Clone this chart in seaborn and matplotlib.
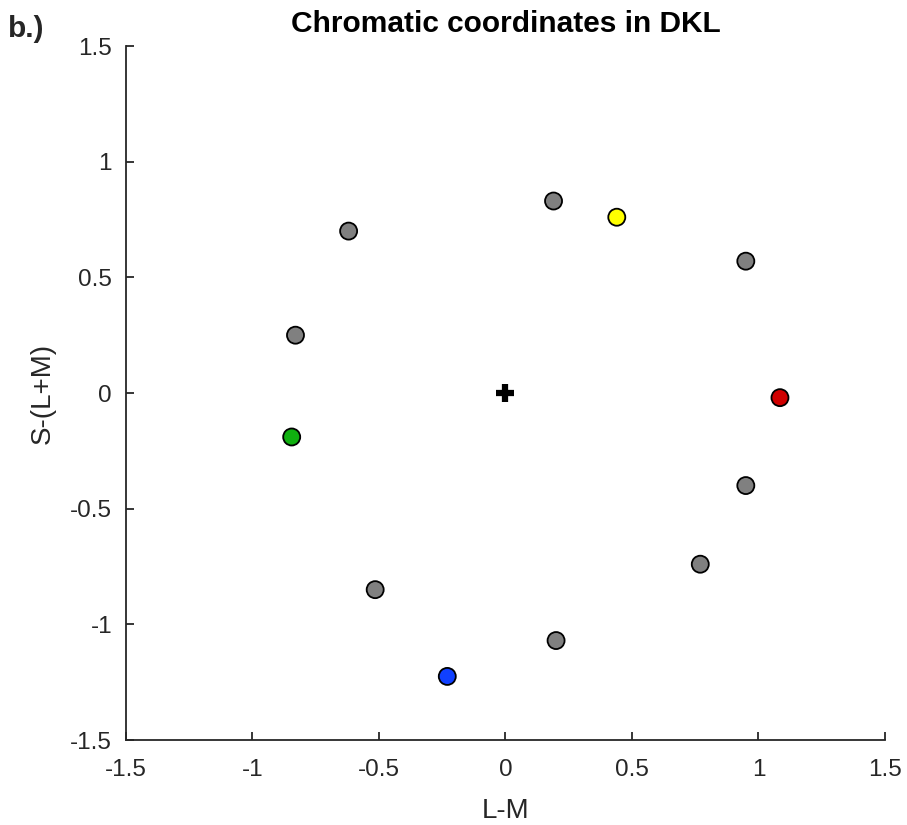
import matplotlib
matplotlib.use("Agg")
import matplotlib.pyplot as plt
import seaborn as sns
import pandas as pd

# DKL chromatic coordinates of the stimuli
lm = [0.19, 0.44, 0.95, -0.62, -0.83, 1.085, -0.845, 0.95, 0.77, -0.515, 0.20, -0.23]
s_lum = [0.83, 0.76, 0.57, 0.70, 0.25, -0.02, -0.19, -0.40, -0.74, -0.85, -1.07, -1.225]
kind = ["other", "yellow", "other", "other", "other", "red", "green",
        "other", "other", "other", "other", "blue"]
palette = {"other": "#808080", "yellow": "#ffff00", "red": "#d00000",
           "green": "#10b010", "blue": "#1040ff"}

ticks = [-1.5, -1, -0.5, 0, 0.5, 1, 1.5]
tick_labels = ["-1.5", "-1", "-0.5", "0", "0.5", "1", "1.5"]

df = pd.DataFrame({"L-M": lm, "S-(L+M)": s_lum, "kind": kind})

sns.set_style("white")
plt.rcParams["font.family"] = ["Liberation Sans", "DejaVu Sans"]

fig = plt.figure(figsize=(9.07, 8.25), dpi=100)
ax = fig.add_axes([0.1389, 0.1030, 0.8368, 0.8412])

sns.scatterplot(data=df, x="L-M", y="S-(L+M)", hue="kind", palette=palette,
                s=150, edgecolor="black", linewidth=1.3, legend=False, ax=ax, zorder=3)
ax.plot([0], [0], marker="+", markersize=13, markeredgewidth=4.5, color="black",
        linestyle="none", zorder=3)

ax.set_xlim(-1.5, 1.5)
ax.set_ylim(-1.5, 1.5)
ax.set_xticks(ticks)
ax.set_xticklabels(tick_labels)
ax.set_yticks(ticks)
ax.set_yticklabels(tick_labels)
ax.tick_params(direction="in", length=6, width=1.3, color="#262626",
               labelsize=17.5, labelcolor="#262626", bottom=True, left=True)
ax.tick_params(axis="x", pad=14)
ax.tick_params(axis="y", pad=10)
for side in ["top", "right"]:
    ax.spines[side].set_visible(False)
for side in ["left", "bottom"]:
    ax.spines[side].set_color("#262626")
    ax.spines[side].set_linewidth(1.3)

ax.set_xlabel("L-M", fontsize=20, color="#262626", labelpad=12)
ax.set_ylabel("S-(L+M)", fontsize=20, color="#262626", labelpad=10)
ax.set_title("Chromatic coordinates in DKL", fontsize=21.5, fontweight="bold",
             color="black", pad=10)
fig.text(8 / 907, 1 - 37 / 825, "b.)", fontsize=21.5, fontweight="bold", va="baseline")

fig.savefig("out.png", dpi=100)
